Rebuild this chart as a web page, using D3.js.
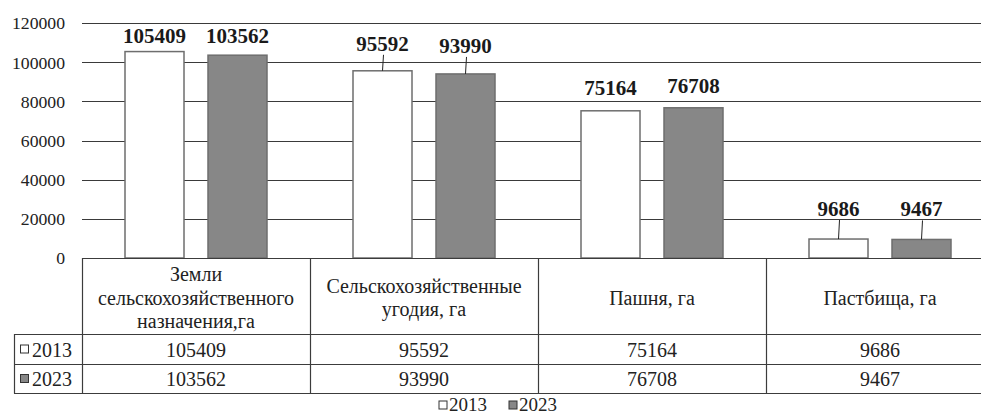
<!DOCTYPE html>
<html>
<head>
<meta charset="utf-8">
<script src="https://cdn.jsdelivr.net/npm/d3@7"></script>
</head>
<body style="margin:0;background:#fff">
<svg id="chart" width="981" height="417"></svg>
<script>
// Land categories (hectares)
const categories = [
  ["Земли", "сельскохозяйственного", "назначения,га"],
  ["Сельскохозяйственные", "угодия, га"],
  ["Пашня, га"],
  ["Пастбища, га"]
];
const seriesNames = ["2013", "2023"];
const values2013 = [105409, 95592, 75164, 9686];
const values2023 = [103562, 93990, 76708, 9467];
const yTicks = [0, 20000, 40000, 60000, 80000, 100000, 120000];

const series = [
  { name: seriesNames[0], values: values2013, fill: "#ffffff" },
  { name: seriesNames[1], values: values2023, fill: "#878787" }
];

// How far each value label sits above its bar (px); labels lifted further get a leader line
const labelLift = [
  [9, 20, 16, 23],
  [12, 21, 15, 23]
];

const FONT = "Liberation Serif";
const svg = d3.select("#chart");
// every text element gets the serif face explicitly
const serif = sel => sel.style("font-family", FONT);

const plotLeft = 82, bandW = 228;
const x = d3.scaleBand()
  .domain(d3.range(categories.length))
  .range([plotLeft, plotLeft + bandW * categories.length])
  .paddingInner(0).paddingOuter(0);
const inner = d3.scaleBand()
  .domain(d3.range(series.length))
  .range([43, bandW - 43])
  .paddingInner(24 / 142 * 2 / (1 + 24 / 142))
  .paddingOuter(0);
const y = d3.scaleLinear().domain([0, 120000]).range([258, 23]);

// Gridlines
svg.append("g")
  .selectAll("line")
  .data(yTicks.filter(t => t > 0))
  .join("line")
  .attr("x1", plotLeft).attr("x2", 981)
  .attr("y1", d => Math.round(y(d)) + 0.5).attr("y2", d => Math.round(y(d)) + 0.5)
  .attr("stroke", "#3a3a3a").attr("stroke-width", 1.2);

// Y axis labels
const yAxis = d3.axisLeft(y).tickValues(yTicks).tickSize(0).tickPadding(0).tickFormat(d3.format("d"));
const gy = svg.append("g").attr("transform", "translate(65,0)").call(yAxis);
gy.select(".domain").remove();
gy.attr("font-family", null).attr("font-size", null);
gy.selectAll("text")
  .call(serif)
  .attr("font-size", 17.7)
  .attr("fill", "#222")
  .attr("dy", "0.33em");

// Bars
const groups = svg.append("g")
  .selectAll("g")
  .data(series)
  .join("g");

groups.selectAll("rect")
  .data((s, si) => s.values.map((v, ci) => ({ v, ci, si, fill: s.fill })))
  .join("rect")
  .attr("x", d => x(d.ci) + inner(d.si))
  .attr("width", inner.bandwidth())
  .attr("y", d => y(d.v))
  .attr("height", d => y(0) - y(d.v))
  .attr("fill", d => d.fill)
  .attr("stroke", "#6e6e6e")
  .attr("stroke-width", 1.5);

// Value labels with leader lines where lifted
const labels = series.flatMap((s, si) => s.values.map((v, ci) => ({ v, ci, si })));
const lx = d => x(d.ci) + inner(d.si) + inner.bandwidth() / 2;
const ly = d => y(d.v) - labelLift[d.si][d.ci];

svg.append("g")
  .selectAll("line")
  .data(labels.filter(d => labelLift[d.si][d.ci] >= 18))
  .join("line")
  .attr("x1", d => lx(d) + 1).attr("x2", lx)
  .attr("y1", d => ly(d) + 4).attr("y2", d => y(d.v))
  .attr("stroke", "#222").attr("stroke-width", 1);

svg.append("g")
  .selectAll("text")
  .data(labels)
  .join("text")
  .call(serif)
  .attr("x", lx)
  .attr("y", ly)
  .attr("text-anchor", "middle")
  .attr("font-size", 21)
  .attr("font-weight", "bold")
  .attr("fill", "#1a1a1a")
  .text(d => d.v);

// Data table under the axis
const tableTop = 258, headBottom = 334, row1Bottom = 364, row2Bottom = 393, tableLeft = 14;
const tableRight = 981;
const tbl = svg.append("g").attr("stroke", "#3c3c3c").attr("stroke-width", 1.2);

// Horizontal rules
tbl.append("line").attr("x1", plotLeft).attr("x2", tableRight)
  .attr("y1", tableTop + 0.5).attr("y2", tableTop + 0.5);
[headBottom, row1Bottom, row2Bottom].forEach(yy => {
  tbl.append("line").attr("x1", tableLeft).attr("x2", tableRight)
    .attr("y1", yy + 0.5).attr("y2", yy + 0.5);
});
// Vertical rules
tbl.append("line").attr("x1", tableLeft + 0.5).attr("x2", tableLeft + 0.5)
  .attr("y1", headBottom).attr("y2", row2Bottom + 0.5);
d3.range(categories.length).forEach(i => {
  const xx = Math.round(x(i)) + 0.5;
  tbl.append("line").attr("x1", xx).attr("x2", xx)
    .attr("y1", tableTop).attr("y2", row2Bottom + 0.5);
});

// Header cells
const headMid = (tableTop + headBottom) / 2 + 2;
const lineH = 23.5;
categories.forEach((lines, i) => {
  const cx = x(i) + bandW / 2;
  lines.forEach((ln, k) => {
    svg.append("text")
      .call(serif)
      .attr("text-anchor", "middle")
      .attr("font-size", 20)
      .attr("fill", "#222")
      .attr("x", cx)
      .attr("y", headMid + (k - (lines.length - 1) / 2) * lineH)
      .attr("dy", "0.33em")
      .text(ln);
  });
});

// Value rows
const rowMids = [(headBottom + row1Bottom) / 2, (row1Bottom + row2Bottom) / 2];
series.forEach((s, si) => {
  s.values.forEach((v, ci) => {
    svg.append("text")
      .call(serif)
      .attr("x", x(ci) + bandW / 2)
      .attr("y", rowMids[si] + 1)
      .attr("dy", "0.33em")
      .attr("text-anchor", "middle")
      .attr("font-size", 20)
      .attr("fill", "#222")
      .text(v);
  });
  // Row key
  svg.append("rect")
    .attr("x", 20.5).attr("y", rowMids[si] - 4)
    .attr("width", 8).attr("height", 8)
    .attr("fill", s.fill).attr("stroke", "#333").attr("stroke-width", 1);
  svg.append("text")
    .call(serif)
    .attr("x", 32).attr("y", rowMids[si] + 1)
    .attr("dy", "0.33em")
    .attr("font-size", 20)
    .attr("fill", "#222")
    .text(s.name);
});

// Legend
const legend = svg.append("g").attr("transform", "translate(0,404)");
const legendX = [439, 509];
series.forEach((s, si) => {
  legend.append("rect")
    .attr("x", legendX[si]).attr("y", -3)
    .attr("width", 8).attr("height", 8)
    .attr("fill", s.fill).attr("stroke", "#333").attr("stroke-width", 1);
  legend.append("text")
    .call(serif)
    .attr("x", legendX[si] + 10).attr("y", 1)
    .attr("dy", "0.33em")
    .attr("font-size", 19)
    .attr("fill", "#222")
    .text(s.name);
});
</script>
</body>
</html>
